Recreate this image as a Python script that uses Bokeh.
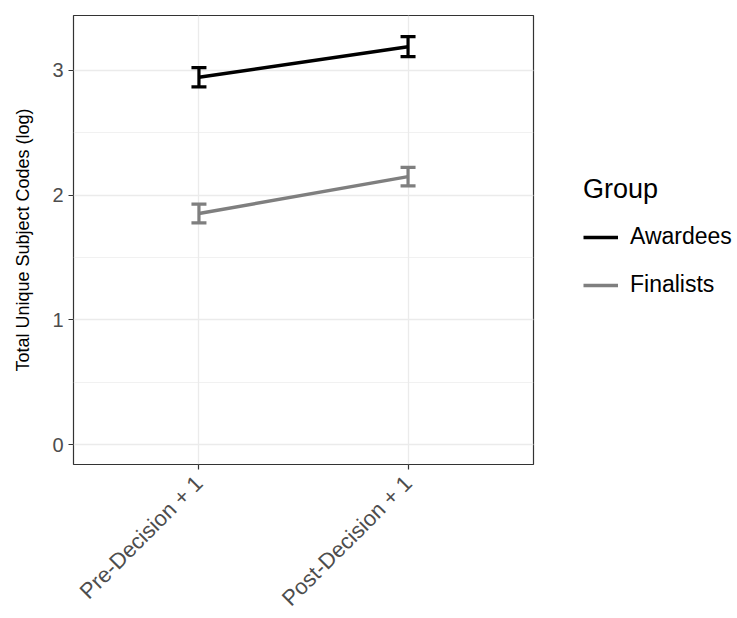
from bokeh.plotting import figure
from bokeh.models import (FactorRange, Range1d, Whisker, ColumnDataSource, Legend,
                          LegendItem, SingleIntervalTicker, TeeHead)
from bokeh.embed import file_html
from bokeh.resources import INLINE
import math

# ---- data ----
periods = ["Pre-Decision + 1", "Post-Decision + 1"]
groups = ["Awardees", "Finalists"]
awardees_mean = [2.945, 3.19]
awardees_se = [0.077, 0.08]
finalists_mean = [1.852, 2.148]
finalists_se = [0.075, 0.074]
group_colors = ["#000000", "#7F7F7F"]

FONT = "Liberation Sans"

p = figure(x_range=FactorRange(factors=periods, range_padding=0.1,
                               range_padding_units="absolute"),
           y_range=Range1d(-0.16, 3.44),
           width=721, height=602, frame_width=460, frame_height=449,
           min_border_left=73, min_border_top=15, min_border_bottom=10,
           min_border_right=10,
           output_backend="svg", toolbar_location=None,
           background_fill_color="white", border_fill_color="white")

p.outline_line_color = "#333333"
p.outline_line_width = 1.2

# grid
p.xgrid.grid_line_color = "#EBEBEB"
p.xgrid.grid_line_width = 1.3
p.ygrid.grid_line_color = "#EBEBEB"
p.ygrid.grid_line_width = 1.3
p.ygrid.minor_grid_line_color = "#EBEBEB"
p.ygrid.minor_grid_line_width = 0.7

p.yaxis.ticker = SingleIntervalTicker(interval=1, num_minor_ticks=2)

for ax in (p.xaxis[0], p.yaxis[0]):
    ax.axis_line_color = None
    ax.major_tick_line_color = "#333333"
    ax.major_tick_line_width = 1.2
    ax.major_tick_out = 5
    ax.major_tick_in = 0
    ax.minor_tick_line_color = None
    ax.major_label_text_color = "#4D4D4D"
    ax.major_label_text_font = FONT
    ax.major_label_standoff = 5

p.yaxis.major_label_text_font_size = "20px"
p.xaxis.major_label_text_font_size = "22px"
p.xaxis.major_label_standoff = 10
p.xaxis.major_label_orientation = math.pi / 4
p.yaxis.axis_label = "Total Unique Subject Codes (log)"
p.yaxis.axis_label_text_font = FONT
p.yaxis.axis_label_text_font_size = "18px"
p.yaxis.axis_label_text_font_style = "normal"
p.yaxis.axis_label_text_color = "#000000"
p.yaxis.axis_label_standoff = 16

items = []
for name, means, ses, col in [(groups[0], awardees_mean, awardees_se, group_colors[0]),
                              (groups[1], finalists_mean, finalists_se, group_colors[1])]:
    src = ColumnDataSource(dict(x=periods, y=means,
                                upper=[m + s for m, s in zip(means, ses)],
                                lower=[m - s for m, s in zip(means, ses)]))
    r = p.line("x", "y", source=src, line_color=col, line_width=3.5)
    w = Whisker(base="x", upper="upper", lower="lower", source=src,
                line_color=col, line_width=3.2,
                upper_head=TeeHead(size=15, line_color=col, line_width=3.2),
                lower_head=TeeHead(size=15, line_color=col, line_width=3.2))
    p.add_layout(w)
    items.append(LegendItem(label=name, renderers=[r]))

legend = Legend(items=items, location=(50, 166), margin=0, padding=0,
                title="Group", title_text_font=FONT, title_text_font_size="27px",
                title_text_font_style="normal", title_text_color="#000000",
                title_standoff=18,
                label_text_font=FONT, label_text_font_size="23px",
                label_text_color="#000000", label_standoff=12,
                glyph_width=35, glyph_height=24, label_height=24, spacing=21,
                border_line_color=None, background_fill_alpha=0)
p.add_layout(legend, "right")

open("out.html", "w").write(file_html(p, INLINE))
